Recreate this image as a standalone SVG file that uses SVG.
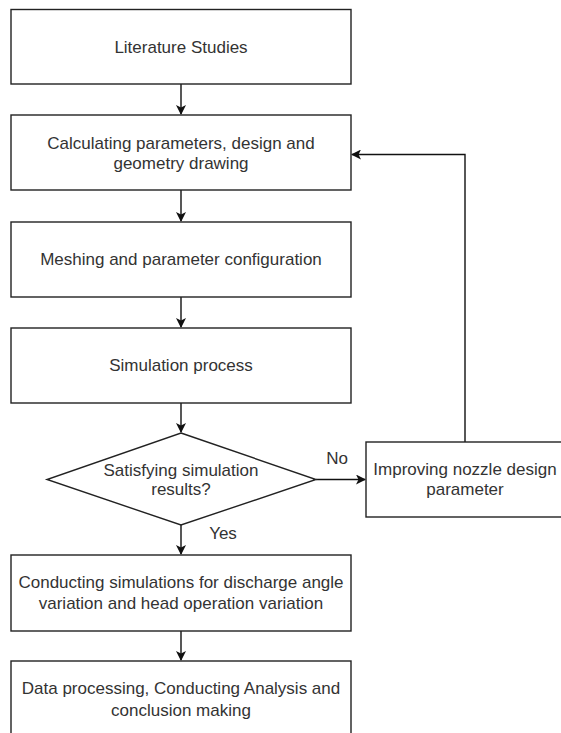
<svg xmlns="http://www.w3.org/2000/svg" width="561" height="733" viewBox="0 0 561 733">
<defs>
<marker id="arr" viewBox="0 0 10 10" refX="9" refY="5" markerWidth="10" markerHeight="10" markerUnits="userSpaceOnUse" orient="auto">
<path d="M0,0 L10,5 L0,10 L2.5,5 Z" fill="#111"/>
</marker>
<style>
.box{fill:#fff;stroke:#222;stroke-width:1.4}
.t{font-family:"Liberation Sans",Arial,sans-serif;font-size:17px;fill:#333;text-anchor:middle;dominant-baseline:central}
.c{fill:none;stroke:#111;stroke-width:1.4}
</style>
</defs>
<rect width="561" height="733" fill="#fff"/>
<g id="connectors">
<path class="c" d="M181,84 V114" marker-end="url(#arr)"/>
<path class="c" d="M181,190 V221" marker-end="url(#arr)"/>
<path class="c" d="M181,297 V327" marker-end="url(#arr)"/>
<path class="c" d="M181,403 V432" marker-end="url(#arr)"/>
<path class="c" d="M181,525 V554" marker-end="url(#arr)"/>
<path class="c" d="M181,631 V660" marker-end="url(#arr)"/>
<path class="c" d="M316,479.5 H365" marker-end="url(#arr)"/>
<path class="c" d="M465,442 V154.5 H352" marker-end="url(#arr)"/>
<text class="t" x="337" y="458">No</text>
<text class="t" x="223" y="533">Yes</text>
</g>
<g id="n1"><rect class="box" x="11" y="9.5" width="340" height="74.5"/><text class="t" x="181" y="47">Literature Studies</text></g>
<g id="n2"><rect class="box" x="11" y="115" width="340" height="75"/><text class="t" x="181" y="143">Calculating parameters, design and</text><text class="t" x="181" y="163">geometry drawing</text></g>
<g id="n3"><rect class="box" x="11" y="222" width="340" height="75"/><text class="t" x="181" y="259.5">Meshing and parameter configuration</text></g>
<g id="n4"><rect class="box" x="11" y="328" width="340" height="75"/><text class="t" x="181" y="365.5">Simulation process</text></g>
<g id="n5"><path class="box" d="M181,433 L316,479.5 L181,525 L47,479.5 Z"/><text class="t" x="181" y="470">Satisfying simulation</text><text class="t" x="181" y="489">results?</text></g>
<g id="n6"><rect class="box" x="366" y="442" width="198" height="75"/><text class="t" x="465" y="469">Improving nozzle design</text><text class="t" x="465" y="489">parameter</text></g>
<g id="n7"><rect class="box" x="11" y="555" width="340" height="76"/><text class="t" x="181" y="582">Conducting simulations for discharge angle</text><text class="t" x="181" y="603">variation and head operation variation</text></g>
<g id="n8"><rect class="box" x="11" y="661" width="340" height="78"/><text class="t" x="181" y="688">Data processing, Conducting Analysis and</text><text class="t" x="181" y="710">conclusion making</text></g>
</svg>
